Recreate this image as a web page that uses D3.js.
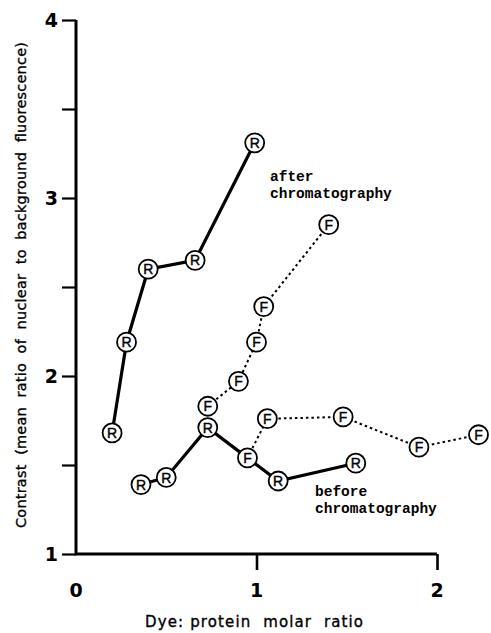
<!DOCTYPE html>
<html><head><meta charset="utf-8">
<script src="https://cdn.jsdelivr.net/npm/d3@7"></script>
<style>
html,body{margin:0;padding:0;background:#fff;}
svg{display:block;}
</style></head>
<body>
<svg id="chart" width="491" height="633"></svg>
<script>
// ---- data ----
const afterR_x = [0.20, 0.28, 0.40, 0.66, 0.99];
const afterR_y = [1.68, 2.19, 2.60, 2.65, 3.31];

const afterF_x = [0.73, 0.90, 1.00, 1.04, 1.40];
const afterF_y = [1.83, 1.97, 2.19, 2.39, 2.85];

const before_x = [0.36, 0.50, 0.73, 0.95, 1.12, 1.55];
const before_y = [1.39, 1.43, 1.71, 1.54, 1.41, 1.51];
const before_marks = ["R", "R", "R", "F", "R", "R"];

const beforeF_x = [0.95, 1.06, 1.48, 1.90, 2.23];
const beforeF_y = [1.54, 1.76, 1.77, 1.60, 1.67];

const xTicks = [0, 1, 2];
const yTicks = [1, 1.5, 2, 2.5, 3, 3.5, 4];
const yTickLabels = ["1", "", "2", "", "3", "", "4"];
const xLabel = "Dye: protein  molar  ratio";
const yLabel = "Contrast  (mean  ratio  of  nuclear  to  background  fluorescence)";
const annotAfter = ["after", "chromatography"];
const annotBefore = ["before", "chromatography"];

// ---- drawing ----
const svg = d3.select("#chart");
const x = d3.scaleLinear().domain([0, 2]).range([76, 437]);
const y = d3.scaleLinear().domain([1, 4]).range([554, 20]);

const zip = (xs, ys, ms) => xs.map((v, i) => ({x: v, y: ys[i], m: ms ? ms[i] : null}));
const afterR = zip(afterR_x, afterR_y, afterR_x.map(() => "R"));
const afterF = zip(afterF_x, afterF_y, afterF_x.map(() => "F"));
const before = zip(before_x, before_y, before_marks);
const beforeF = zip(beforeF_x, beforeF_y, beforeF_x.map(() => "F"));

// axes
const yAxis = d3.axisLeft(y).tickValues(yTicks).tickSize(14).tickFormat("");
const gy = svg.append("g").attr("transform", `translate(${x(0)},0)`).call(yAxis);
gy.select(".domain").remove();
gy.selectAll(".tick line").attr("stroke", "#000").attr("stroke-width", 2.2);

const xAxis = d3.axisBottom(x).tickValues([1, 2]).tickSize(16).tickFormat("");
const gx = svg.append("g").attr("transform", `translate(0,${y(1)})`).call(xAxis);
gx.select(".domain").remove();
gx.selectAll(".tick line").attr("stroke", "#000").attr("stroke-width", 2.6);

// axis frame lines
svg.append("path")
  .attr("d", `M${x(0)},${y(4)} L${x(0)},${y(1)} L${x(2)},${y(1)}`)
  .attr("fill", "none").attr("stroke", "#000").attr("stroke-width", 3)
  .attr("stroke-linejoin", "miter");

// tick labels
svg.append("g").selectAll("text").data(yTicks.map((v, i) => ({v, t: yTickLabels[i]})).filter(d => d.t))
  .join("text")
  .attr("x", 58).attr("y", d => y(d.v)).attr("dy", "0.36em")
  .attr("text-anchor", "end")
  .attr("font-family", "DejaVu Sans").attr("font-weight", "bold").attr("font-size", 19)
  .text(d => d.t);

svg.append("g").selectAll("text").data(xTicks)
  .join("text")
  .attr("x", d => x(d)).attr("y", 597)
  .attr("text-anchor", "middle")
  .attr("font-family", "DejaVu Sans").attr("font-weight", "bold").attr("font-size", 19)
  .text(d => d);

// axis titles
svg.append("text")
  .attr("x", 254).attr("y", 627)
  .attr("text-anchor", "middle")
  .attr("font-family", "DejaVu Sans").attr("font-size", 15)
  .attr("stroke", "#000").attr("stroke-width", 0.35)
  .attr("textLength", 218).attr("lengthAdjust", "spacing")
  .style("white-space", "pre")
  .text(xLabel);

svg.append("text")
  .attr("transform", "translate(26,285) rotate(-90)")
  .attr("text-anchor", "middle")
  .attr("font-family", "DejaVu Sans").attr("font-size", 14.5)
  .attr("stroke", "#000").attr("stroke-width", 0.35)
  .attr("textLength", 486).attr("lengthAdjust", "spacing")
  .style("white-space", "pre")
  .text(yLabel);

// lines
const line = d3.line().x(d => x(d.x)).y(d => y(d.y));
svg.append("path").datum(afterF).attr("d", line)
  .attr("fill", "none").attr("stroke", "#000").attr("stroke-width", 2).attr("stroke-dasharray", "2.5,3");
svg.append("path").datum(beforeF).attr("d", line)
  .attr("fill", "none").attr("stroke", "#000").attr("stroke-width", 2).attr("stroke-dasharray", "2.5,3");
svg.append("path").datum(afterR).attr("d", line)
  .attr("fill", "none").attr("stroke", "#000").attr("stroke-width", 3.2);
svg.append("path").datum(before).attr("d", line)
  .attr("fill", "none").attr("stroke", "#000").attr("stroke-width", 3.2);

// markers
const allPts = [...afterR, ...afterF, ...before, ...beforeF.slice(1)];
const mk = svg.append("g").selectAll("g").data(allPts).join("g")
  .attr("transform", d => `translate(${x(d.x)},${y(d.y)})`);
mk.append("circle").attr("r", 9.5).attr("fill", "#fff").attr("stroke", "#000").attr("stroke-width", 1.8);
mk.append("text").attr("text-anchor", "middle").attr("dy", "0.36em")
  .attr("font-family", "Liberation Sans").attr("font-size", 14)
  .attr("stroke", "#000").attr("stroke-width", 0.4)
  .text(d => d.m);

// annotations
const ann = (lines, x0, y0) => svg.append("g").selectAll("text").data(lines).join("text")
  .attr("x", x0).attr("y", (d, i) => y0 + i * 17)
  .attr("font-family", "Liberation Mono").attr("font-weight", "bold").attr("font-size", 14.5)
  .text(d => d);
ann(annotAfter, 270, 181);
ann(annotBefore, 315, 496);
</script>
</body></html>
